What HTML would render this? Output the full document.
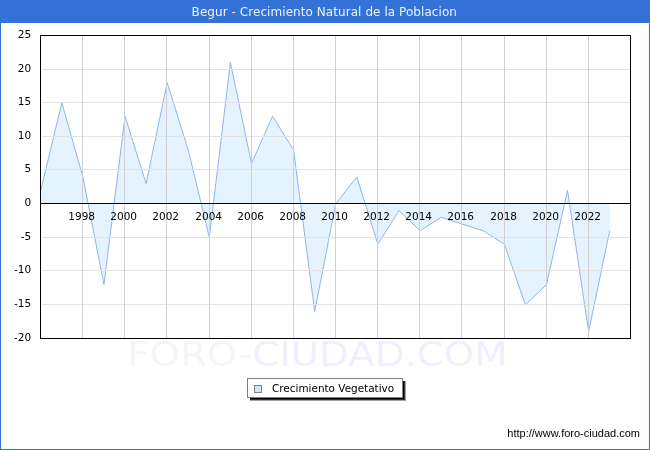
<!DOCTYPE html>
<html lang="es">
<head>
<meta charset="utf-8">
<title>Begur - Crecimiento Natural de la Poblacion</title>
<style>
html,body{margin:0;padding:0;background:#fff;}
body{width:650px;height:450px;overflow:hidden;position:relative;font-family:"DejaVu Sans","Liberation Sans",sans-serif;}
#chart{position:absolute;left:0;top:0;width:650px;height:450px;display:block;will-change:transform;}
#chart text{font-family:"DejaVu Sans","Liberation Sans",sans-serif;}
.ax text{font-size:10.5px;fill:#000;}
</style>
</head>
<body>
<svg id="chart" width="650" height="450" viewBox="0 0 650 450">
  <!-- outer frame -->
  <rect x="0" y="0" width="650" height="450" fill="#3472d8"/>
  <rect x="1" y="23" width="648" height="426" fill="#ffffff"/>
  <text x="191.6" y="15.6" font-size="12px" textLength="265.3" lengthAdjust="spacing" fill="#eef2fb">Begur - Crecimiento Natural de la Poblacion</text>

  <!-- watermark -->
  <text x="127.2" y="366" font-size="33px" textLength="380.5" lengthAdjust="spacingAndGlyphs"><tspan fill="#f5f5f7">FORO-</tspan><tspan fill="#eff0ff">CIUDAD.COM</tspan></text>

  <!-- area + grid -->
  <polygon points="40.75,203.83 40.75,190.37 61.82,102.83 82.89,176.90 103.96,284.63 125.04,116.30 146.11,183.63 167.18,82.63 188.25,149.97 209.32,237.50 230.39,62.43 251.46,163.43 272.54,116.30 293.61,149.97 314.68,311.57 335.75,203.83 356.82,176.90 377.89,244.23 398.96,210.57 420.04,230.77 441.11,217.30 462.18,224.03 483.25,230.77 504.32,244.23 525.39,304.83 546.46,284.63 567.54,190.37 588.61,331.77 609.68,230.77 609.68,203.83" fill="#e5f3fe"/>
  <polyline points="40.75,190.37 61.82,102.83 82.89,176.90 103.96,284.63 125.04,116.30 146.11,183.63 167.18,82.63 188.25,149.97 209.32,237.50 230.39,62.43 251.46,163.43 272.54,116.30 293.61,149.97 314.68,311.57 335.75,203.83 356.82,176.90 377.89,244.23 398.96,210.57 420.04,230.77 441.11,217.30 462.18,224.03 483.25,230.77 504.32,244.23 525.39,304.83 546.46,284.63 567.54,190.37 588.61,331.77 609.68,230.77" fill="none" stroke="#8fb4ee" stroke-width="1" stroke-linejoin="round"/>
  <g fill="#e2e2e2" shape-rendering="crispEdges"><rect x="42" y="69" width="588" height="1"/><rect x="42" y="102" width="588" height="1"/><rect x="42" y="136" width="588" height="1"/><rect x="42" y="169" width="588" height="1"/><rect x="42" y="237" width="588" height="1"/><rect x="42" y="270" width="588" height="1"/><rect x="42" y="304" width="588" height="1"/></g>
  <g fill="#d0d0d0" shape-rendering="crispEdges"><rect x="82" y="36" width="1" height="302"/><rect x="124" y="36" width="1" height="302"/><rect x="166" y="36" width="1" height="302"/><rect x="209" y="36" width="1" height="302"/><rect x="251" y="36" width="1" height="302"/><rect x="293" y="36" width="1" height="302"/><rect x="335" y="36" width="1" height="302"/><rect x="377" y="36" width="1" height="302"/><rect x="419" y="36" width="1" height="302"/><rect x="461" y="36" width="1" height="302"/><rect x="504" y="36" width="1" height="302"/><rect x="546" y="36" width="1" height="302"/><rect x="588" y="36" width="1" height="302"/></g>

  <!-- axes -->
  <g fill="#000" shape-rendering="crispEdges">
    <rect x="40" y="35" width="591" height="1"/>
    <rect x="40" y="338" width="591" height="1"/>
    <rect x="40" y="35" width="1" height="304"/>
    <rect x="630" y="35" width="1" height="304"/>
    <rect x="40" y="203" width="591" height="1"/>
  </g>
  <g class="ax" text-anchor="middle"><text x="81.7" y="220">1998</text><text x="123.7" y="220">2000</text><text x="165.7" y="220">2002</text><text x="208.7" y="220">2004</text><text x="250.7" y="220">2006</text><text x="292.7" y="220">2008</text><text x="334.7" y="220">2010</text><text x="376.7" y="220">2012</text><text x="418.7" y="220">2014</text><text x="460.7" y="220">2016</text><text x="503.7" y="220">2018</text><text x="545.7" y="220">2020</text><text x="587.7" y="220">2022</text></g>
  <g class="ax" text-anchor="end"><text x="31.2" y="38">25</text><text x="31.2" y="72">20</text><text x="31.2" y="105">15</text><text x="31.2" y="139">10</text><text x="31.2" y="172">5</text><text x="31.2" y="206">0</text><text x="31.2" y="240">-5</text><text x="31.2" y="273">-10</text><text x="31.2" y="307">-15</text><text x="31.2" y="341">-20</text></g>

  <!-- legend -->
  <g shape-rendering="crispEdges">
    <rect x="250" y="381" width="156" height="20" fill="#a2a2a2"/>
    <rect x="250" y="381" width="155" height="19" fill="#303030"/>
    <rect x="250" y="381" width="154" height="18" fill="#000"/>
    <rect x="247.5" y="378.5" width="155" height="19" fill="#fff" stroke="#808080" stroke-width="1"/>
    <rect x="254.5" y="385.5" width="7" height="7" fill="#cfe7fc" stroke="#808080" stroke-width="1"/>
  </g>
  <text x="272" y="391.5" font-size="10.45px" fill="#000">Crecimiento Vegetativo</text>

  <!-- url -->
  <text x="640" y="437" text-anchor="end" font-size="11px" fill="#000" style="font-family:'Liberation Sans','DejaVu Sans Condensed',sans-serif">http://www.foro-ciudad.com</text>
</svg>
</body>
</html>
